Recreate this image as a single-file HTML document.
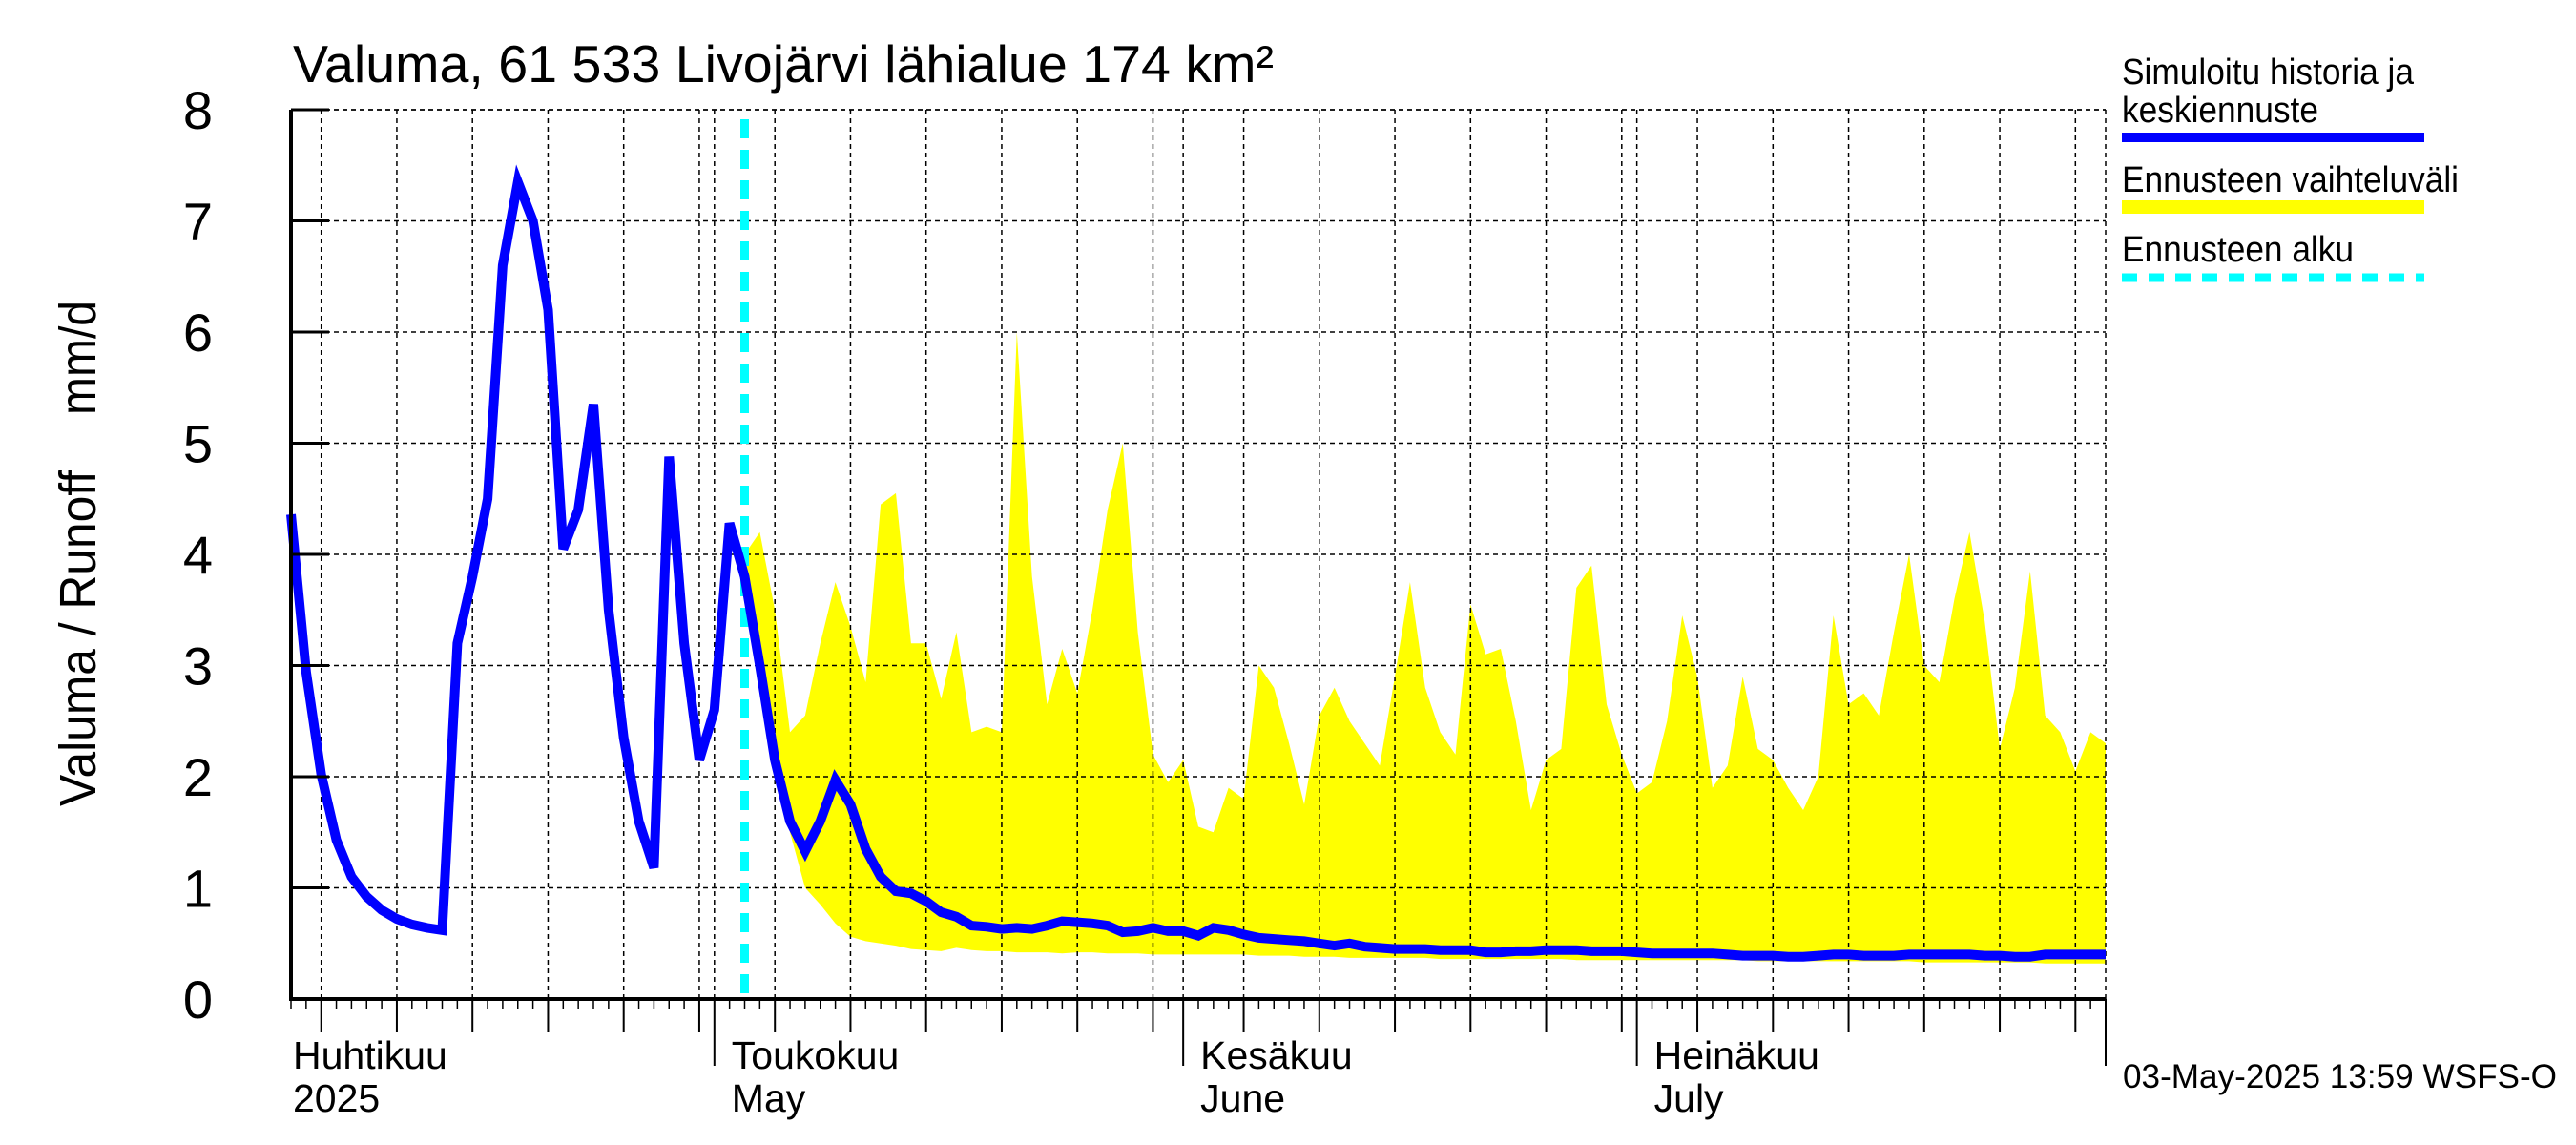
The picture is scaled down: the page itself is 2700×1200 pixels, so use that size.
<!DOCTYPE html>
<html><head><meta charset="utf-8">
<style>
html,body{margin:0;padding:0;background:#fff;}
svg{display:block;font-family:"Liberation Sans",sans-serif;}
</style></head>
<body>
<svg id="chart" width="2700" height="1200" viewBox="0 0 2700 1200" xmlns="http://www.w3.org/2000/svg">
  <rect x="0" y="0" width="2700" height="1200" fill="#fff"/>
  <g id="band"></g>
  <g id="grid"></g>
  <g id="series"></g>
  <g id="axes"></g>
  <text x="307" y="86" font-size="55" textLength="1028" lengthAdjust="spacingAndGlyphs">Valuma, 61 533 Livojärvi lähialue 174 km²</text>
  <text transform="translate(100,669) rotate(-90)" font-size="54" text-anchor="middle" textLength="352" lengthAdjust="spacingAndGlyphs">Valuma / Runoff</text>
  <text transform="translate(100,375) rotate(-90)" font-size="54" text-anchor="middle" textLength="120" lengthAdjust="spacingAndGlyphs">mm/d</text>
  <g>
    <text x="2224" y="88" font-size="38" textLength="306" lengthAdjust="spacingAndGlyphs">Simuloitu historia ja</text>
    <text x="2224" y="128" font-size="38" textLength="206" lengthAdjust="spacingAndGlyphs">keskiennuste</text>
    <line x1="2224" y1="144" x2="2541" y2="144" stroke="#0000ff" stroke-width="10"/>
    <text x="2224" y="201" font-size="38" textLength="353" lengthAdjust="spacingAndGlyphs">Ennusteen vaihteluväli</text>
    <line x1="2224" y1="217" x2="2541" y2="217" stroke="#ffff00" stroke-width="14"/>
    <text x="2224" y="274" font-size="38" textLength="243" lengthAdjust="spacingAndGlyphs">Ennusteen alku</text>
    <line x1="2224" y1="291" x2="2541" y2="291" stroke="#00ffff" stroke-width="9" stroke-dasharray="16,12"/>
  </g>
  <text x="2225" y="1140" font-size="35" textLength="455" lengthAdjust="spacingAndGlyphs">03-May-2025 13:59 WSFS-O</text>
</svg>
<script>
// Data: daily values starting 2025-04-03 (runoff) and 2025-05-03 (forecast band)
const yTicks = [0,1,2,3,4,5,6,7,8];
const months = [
  {day: -2, fi: "Huhtikuu", en: "2025"},
  {day: 28, fi: "Toukokuu", en: "May"},
  {day: 59, fi: "Kesäkuu", en: "June"},
  {day: 89, fi: "Heinäkuu", en: "July"}
];
const runoff = [
 4.36,2.94,2.02,1.43,1.1,0.92,0.8,0.72,0.67,0.64,0.62,3.2,3.8,4.5,6.6,7.35,7.0,6.2,4.05,4.4,5.35,3.5,2.35,1.6,1.18,4.88,3.2,2.15,
 2.6,4.28,3.8,3.0,2.15,1.6,1.33,1.6,1.97,1.75,1.35,1.1,0.97,0.95,0.88,0.78,0.74,0.66,0.65,0.63,0.64,0.63,0.66,0.7,0.69,0.68,0.66,0.6,0.61,0.64,0.61,
 0.61,0.57,0.64,0.62,0.58,0.55,0.54,0.53,0.52,0.5,0.48,0.5,0.47,
 0.46,0.45,0.45,0.45,0.44,0.44,0.44,0.42,0.42,0.43,0.43,0.44,0.44,0.44,0.43,0.43,0.43,
 0.42,0.41,0.41,0.41,0.41,0.41,0.4,0.39,0.39,0.39,0.38,0.38,0.39,0.4,0.4,0.39,0.39,0.39,0.4,0.4,0.4,0.4,0.4,0.39,0.39,0.38,0.38,0.4,0.4,0.4,0.4,
 0.4
];
const bandStart = 30; // index of 2025-05-03
const bandUpper = [
 4.0,4.2,3.5,2.4,2.55,3.2,3.75,3.35,2.85,4.45,4.55,3.2,3.2,2.7,3.3,2.4,2.45,2.4,6.0,3.8,2.65,3.15,2.75,3.5,4.4,5.0,3.3,2.2,1.95,
 2.15,1.55,1.5,1.9,1.8,3.0,2.8,2.3,1.75,2.55,2.8,2.5,2.3,2.1,2.9,3.75,2.8,2.4,2.2,3.55,3.1,3.15,2.5,1.7,2.15,2.25,3.7,3.9,2.65,2.2,
 1.85,1.95,2.5,3.45,2.9,1.9,2.1,2.9,2.25,2.15,1.9,1.7,2.0,3.45,2.65,2.75,2.55,3.3,4.0,3.0,2.85,3.6,4.2,3.4,2.25,2.8,3.85,2.55,2.4,2.05,2.4,
 2.3
];
const bandLower = [
 3.8,3.0,2.2,1.5,1.0,0.85,0.68,0.56,0.52,0.5,0.48,0.45,0.44,0.43,0.46,0.44,0.43,0.43,0.42,0.42,0.42,0.41,0.42,0.42,0.41,0.41,0.41,0.4,0.4,
 0.4,0.4,0.4,0.4,0.4,0.39,0.39,0.39,0.38,0.38,0.38,0.37,0.37,0.37,0.37,0.37,0.37,0.36,0.36,0.36,0.36,0.36,0.36,0.36,0.36,0.36,0.35,0.35,0.35,0.35,
 0.35,0.35,0.35,0.35,0.35,0.35,0.35,0.35,0.34,0.34,0.34,0.34,0.34,0.34,0.34,0.34,0.34,0.34,0.34,0.33,0.33,0.33,0.33,0.33,0.33,0.33,0.33,0.32,0.32,0.32,0.32,
 0.32
];
const forecastStartDay = 30;

const X0 = 305, X1 = 2207, Y0 = 1047, Y8 = 115;
const totalDays = 120;
function x(d){ return X0 + d*(X1-X0)/totalDays; }
function y(v){ return Y0 - v*(Y0-Y8)/8; }
const NS = "http://www.w3.org/2000/svg";
function mk(tag, attrs, parent){
  const e = document.createElementNS(NS, tag);
  for (const k in attrs) e.setAttribute(k, attrs[k]);
  parent.appendChild(e); return e;
}
const gBand = document.getElementById('band');
const gGrid = document.getElementById('grid');
const gSer = document.getElementById('series');
const gAx = document.getElementById('axes');

// band
let pts = [];
for (let i=0;i<bandUpper.length;i++) pts.push(x(bandStart+i).toFixed(1)+','+y(bandUpper[i]).toFixed(1));
for (let i=bandLower.length-1;i>=0;i--) pts.push(x(bandStart+i).toFixed(1)+','+y(bandLower[i]).toFixed(1));
const poly = mk('polygon',{points:pts.join(' '),fill:'#ffff00',stroke:'none'},gBand);



// horizontal grid
yTicks.forEach(v=>{
  if (v>0){
    const l = mk('line',{x1:X0,x2:X1,y1:y(v),y2:y(v),stroke:'#000','stroke-width':1.5,'stroke-dasharray':'5,4'},gGrid);
    
    
  }
  const t = mk('line',{x1:X0,x2:X0+40,y1:y(v),y2:y(v),stroke:'#000','stroke-width':3},gAx);
  
  
  const lb = mk('text',{x:223,y:y(v)+20,'font-size':56,'text-anchor':'end'},gAx);
  lb.textContent = v;
  
  
});
// vertical grid & ticks
const monthDays = months.map(m=>m.day);
for (let d=0; d<=totalDays; d++){
  const isMonth = monthDays.includes(d) || d===120;
  const dom = d<28 ? d+3 : d<59 ? d-27 : d<89 ? d-58 : d-88;
  const isFive = (dom%5===0) && dom<=30;
  let len = 10;
  if (isFive) len = 35;
  if (isMonth) len = 70;
  const tk = mk('line',{x1:x(d),x2:x(d),y1:Y0,y2:Y0+len,stroke:'#000','stroke-width':isFive||isMonth?2:1.5},gAx);
  
  
  if ((isFive||isMonth) && d>0 && d<120){
    const gl = mk('line',{x1:x(d),x2:x(d),y1:Y8,y2:Y0,stroke:'#000','stroke-width':1.5,'stroke-dasharray':'5,4'},gGrid);
    
    
  }
}
const rb = mk('line',{x1:X1,x2:X1,y1:Y8,y2:Y0,stroke:'#000','stroke-width':1.5,'stroke-dasharray':'5,4'},gGrid);


const tb = mk('line',{x1:X0,x2:X1,y1:Y8,y2:Y8,stroke:'#000','stroke-width':1.5,'stroke-dasharray':'5,4'},gGrid);



months.forEach((m,i)=>{
  const lx = i===0 ? X0+2 : x(m.day)+18;
  const t1 = mk('text',{x:lx,y:1120,'font-size':41},gAx);
  t1.textContent = m.fi;
  
  
  const t2 = mk('text',{x:lx,y:1165,'font-size':41},gAx);
  t2.textContent = m.en;
  
  
});

// forecast start line
const fs = mk('line',{x1:x(forecastStartDay),x2:x(forecastStartDay),y1:Y8+10,y2:Y0,stroke:'#00ffff','stroke-width':9,'stroke-dasharray':'20,12'},gSer);



// runoff line
const rp = runoff.map((v,i)=>x(i).toFixed(1)+','+y(v).toFixed(1)).join(' ');
const pl = mk('polyline',{points:rp,fill:'none',stroke:'#0000ff','stroke-width':10,'stroke-linejoin':'miter'},gSer);



// axes lines
const ax1 = mk('line',{x1:X0,x2:X0,y1:Y8,y2:Y0+2,stroke:'#000','stroke-width':4},gAx);


const ax2 = mk('line',{x1:X0-2,x2:X1,y1:Y0,y2:Y0,stroke:'#000','stroke-width':4},gAx);


</script>
</body></html>
